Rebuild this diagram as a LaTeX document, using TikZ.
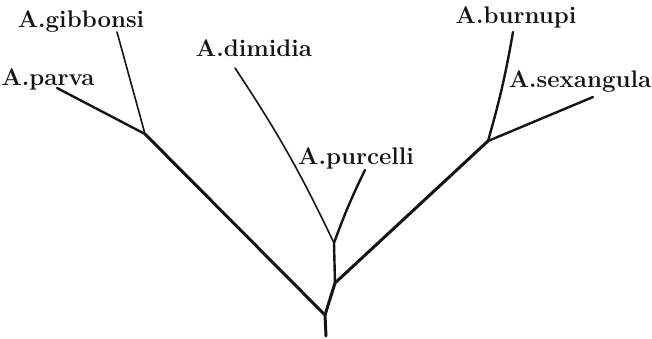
\documentclass[tikz,border=0pt]{standalone}
\usepackage{tikz}
\usetikzlibrary{positioning}
\definecolor{ink}{HTML}{141414}

\begin{document}
\begin{tikzpicture}[x=0.5pt,y=-0.5pt,
  trunk/.style={ink,line width=1.5pt,line cap=round},
  limb/.style={ink,line width=1.2pt,line cap=round},
  twig/.style={ink,line width=0.8pt,line cap=round},
  taxon/.style={ink,inner sep=0pt,font=\bfseries\fontsize{12}{14}\selectfont}]
  \useasboundingbox (0,0) rectangle (652,338);
  % junctions
  \coordinate (root) at (326,336);
  \coordinate (base) at (325,315);
  \coordinate (fork) at (335,283);
  \coordinate (crown) at (334,243);
  \coordinate (westfork) at (145,134);
  \coordinate (eastfork) at (488,141);
  % branch tips
  \coordinate (parvatip) at (57,88);
  \coordinate (gibbonsitip) at (117,32);
  \coordinate (dimidiatip) at (235,68);
  \coordinate (purcellitip) at (365,170);
  \coordinate (burnupitip) at (513,32);
  \coordinate (sexangulatip) at (593,97);
  % names
  \node[taxon] (gibbonsi) at (81,22) {A.gibbonsi};
  \node[taxon] (parva) at (48,79) {A.parva};
  \node[taxon] (dimidia) at (254,48) {A.dimidia};
  \node[taxon] (purcelli) at (356,158) {A.purcelli};
  \node[taxon] (burnupi) at (516,17) {A.burnupi};
  \node[taxon] (sexangula) at (580,82) {A.sexangula};
  % tree
  \draw[trunk] (root) -- (base) -- (westfork);
  \draw[trunk] (base) -- (fork) -- (eastfork);
  \draw[limb] (westfork) -- (parvatip);
  \draw[twig] (westfork) -- (gibbonsitip);
  \draw[limb] (fork) -- (crown);
  \draw[twig] (crown) to[bend right=4] (dimidiatip);
  \draw[limb] (crown) to[bend left=3] (purcellitip);
  \draw[limb] (eastfork) to[bend right=3] (burnupitip);
  \draw[limb] (eastfork) -- (sexangulatip);
\end{tikzpicture}
\end{document}
